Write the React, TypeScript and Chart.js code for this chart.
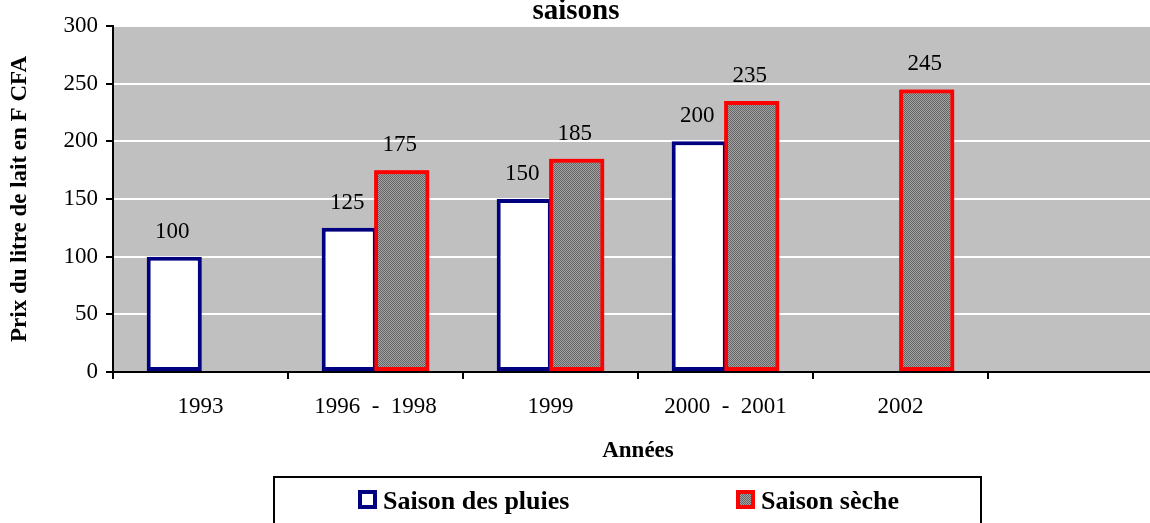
import React, { useEffect, useRef } from 'react';
import { Chart, registerables } from 'chart.js';

Chart.register(...registerables);

const categories = ['1993', '1996  -  1998', '1999', '2000  -  2001', '2002', ''];
const rainySeason: (number | null)[] = [100, 125, 150, 200, null, null];
const drySeason: (number | null)[] = [null, 175, 185, 235, 245, null];
const seriesNames = ['Saison des pluies', 'Saison sèche'];
const titleText = 'saisons';
const yTitle = 'Prix du litre de lait en F CFA';
const xTitle = 'Années';
const yMin = 0;
const yMax = 300;
const yStep = 50;

const SERIF = '"Liberation Serif", "Times New Roman", serif';
const NAVY = '#000080';
const RED = '#FF0000';
const PLOT_BG = '#C0C0C0';

function makePattern(): CanvasPattern | string {
  const c = document.createElement('canvas');
  c.width = 2;
  c.height = 2;
  const g = c.getContext('2d');
  if (!g) return '#888888';
  g.fillStyle = '#a4a4a4';
  g.fillRect(0, 0, 2, 2);
  g.fillStyle = '#646464';
  g.fillRect(0, 0, 1, 1);
  g.fillRect(1, 1, 1, 1);
  const p = g.createPattern(c, 'repeat');
  return p || '#888888';
}

export default function App() {
  const canvasRef = useRef<HTMLCanvasElement | null>(null);

  useEffect(() => {
    const canvas = canvasRef.current;
    if (!canvas) return;
    const pattern = makePattern();

    const decorPlugin = {
      id: 'decor',
      beforeDraw(chart: any) {
        const { ctx, chartArea } = chart;
        ctx.save();
        ctx.fillStyle = PLOT_BG;
        ctx.fillRect(chartArea.left, chartArea.top, chartArea.right - chartArea.left, chartArea.bottom - chartArea.top);
        ctx.restore();
      },
      afterDatasetsDraw(chart: any) {
        // dry-season bars sit on top of the rainy-season bars
        const ctx = chart.ctx;
        const meta = chart.getDatasetMeta(1);
        meta.data.forEach((el: any, i: number) => {
          const v = chart.data.datasets[1].data[i];
          if (v === null || v === undefined) return;
          el.draw(ctx, chart.chartArea);
        });
      },
      afterDraw(chart: any) {
        const { ctx, chartArea } = chart;
        ctx.save();
        ctx.fillStyle = '#000';
        // data labels
        ctx.font = `23px ${SERIF}`;
        ctx.textAlign = 'center';
        ctx.textBaseline = 'middle';
        chart.data.datasets.forEach((ds: any, di: number) => {
          const meta = chart.getDatasetMeta(di);
          meta.data.forEach((el: any, i: number) => {
            const v = ds.data[i];
            if (v === null || v === undefined) return;
            ctx.fillText(String(v), el.x - 2, el.y - 25);
          });
        });
        // title
        ctx.font = `bold 29px ${SERIF}`;
        ctx.textBaseline = 'alphabetic';
        ctx.fillText(titleText, 576, 19);
        // x title
        ctx.font = `bold 23px ${SERIF}`;
        ctx.textBaseline = 'middle';
        ctx.fillText(xTitle, (chartArea.left + chartArea.right) / 2, 451);
        // y title
        ctx.save();
        ctx.translate(20, (chartArea.top + chartArea.bottom) / 2);
        ctx.rotate(-Math.PI / 2);
        ctx.fillText(yTitle, 0, 0);
        ctx.restore();
        // legend box
        ctx.strokeStyle = '#000';
        ctx.lineWidth = 2;
        ctx.strokeRect(274, 477, 707, 70);
        // legend items
        const items = [
          { x: 358, tx: 383, border: NAVY, fill: '#FFFFFF' as any },
          { x: 736, tx: 761, border: RED, fill: pattern as any },
        ];
        items.forEach((it, k) => {
          ctx.fillStyle = it.border;
          ctx.fillRect(it.x, 490, 19, 19);
          ctx.fillStyle = it.fill;
          ctx.fillRect(it.x + 4, 494, 11, 11);
          ctx.fillStyle = '#000';
          ctx.font = `bold 26px ${SERIF}`;
          ctx.textAlign = 'left';
          ctx.textBaseline = 'alphabetic';
          ctx.fillText(seriesNames[k], it.tx, 509);
        });
        ctx.restore();
      },
    };

    const chart = new Chart(canvas, {
      type: 'bar',
      data: {
        labels: categories,
        datasets: [
          {
            label: seriesNames[0],
            data: rainySeason,
            backgroundColor: '#FFFFFF',
            borderColor: NAVY,
            borderWidth: 4,
            borderSkipped: false,
            barPercentage: 1.05,
            categoryPercentage: 0.6,
          },
          {
            label: seriesNames[1],
            data: drySeason,
            backgroundColor: pattern as any,
            borderColor: RED,
            borderWidth: 4,
            borderSkipped: false,
            barPercentage: 1.05,
            categoryPercentage: 0.6,
          },
        ],
      },
      options: {
        responsive: false,
        animation: false,
        layout: { padding: { left: 0, top: 26, right: 17, bottom: 101 } },
        plugins: {
          legend: { display: false },
          title: { display: false },
          tooltip: { enabled: false },
        },
        scales: {
          x: {
            offset: true,
            grid: {
              offset: true,
              drawOnChartArea: false,
              drawTicks: true,
              tickLength: 7,
              tickColor: '#000',
              lineWidth: 2,
              color: '#000',
            },
            border: { display: true, color: '#000', width: 2 },
            ticks: {
              color: '#000',
              font: { family: SERIF, size: 23 },
              padding: 14,
              maxRotation: 0,
              autoSkip: false,
            },
            afterFit: (scale: any) => {
              scale.height = 50;
            },
          },
          y: {
            min: yMin,
            max: yMax,
            grid: {
              color: '#FFFFFF',
              lineWidth: 2,
              drawTicks: true,
              tickLength: 7,
              tickColor: '#000',
            },
            border: { display: true, color: '#000', width: 2 },
            ticks: {
              stepSize: yStep,
              color: '#000',
              font: { family: SERIF, size: 23 },
              padding: 8,
            },
            afterFit: (scale: any) => {
              scale.width = 113;
            },
          },
        },
      },
      plugins: [decorPlugin],
    });

    return () => {
      chart.destroy();
    };
  }, []);

  return (
    <div
      style={{
        position: 'fixed',
        left: 0,
        top: 0,
        width: 1150,
        height: 523,
        overflow: 'hidden',
        background: '#FFFFFF',
      }}
    >
      <canvas ref={canvasRef} width={1180} height={523} style={{ width: 1180, height: 523, display: 'block' }} />
    </div>
  );
}
